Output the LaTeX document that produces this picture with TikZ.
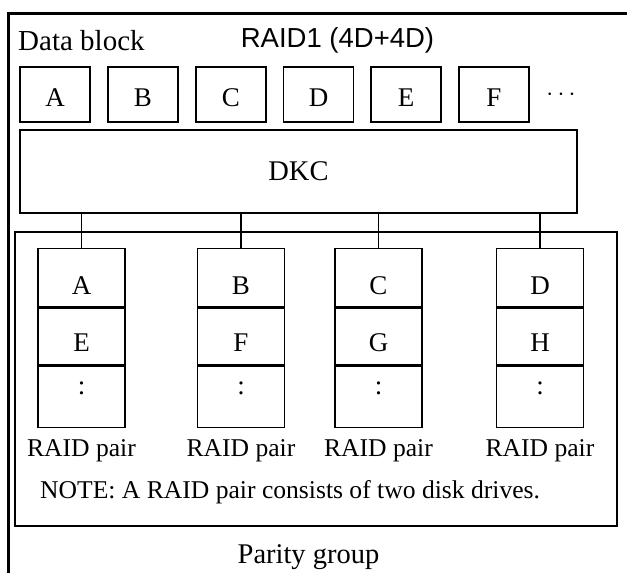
\documentclass[tikz,border=0pt]{standalone}
\usepackage{fontspec}
\setmainfont{Liberation Serif}
\newfontfamily\titlefont{Liberation Sans}
\usepackage{tikz}
\usetikzlibrary{positioning}
\tikzset{%
  block/.style = {shape=rectangle, draw, line width=1.3pt,
    minimum width=70pt, minimum height=55pt, inner sep=0pt,
    text height=24pt, text depth=0pt,
    font=\fontsize{27}{30}\selectfont},
  cell/.style = {shape=rectangle, draw, line width=1.3pt,
    minimum width=87pt, inner sep=0pt, anchor=north,
    font=\fontsize{27}{30}\selectfont},
  pairtext/.style = {inner sep=0pt, anchor=base,
    font=\fontsize{25.6}{28}\selectfont},
  link/.style = {draw, line width=1.3pt}
}

\begin{document}
\begin{tikzpicture}[x=1pt, y=-1pt]
  \useasboundingbox (0,0) rectangle (627,573);
  \draw[line width=3pt] (8.7,573) -- (8.7,13.5) -- (627,13.5);

  \node[inner sep=0pt, anchor=base west, font=\fontsize{29}{32}\selectfont]
    (datalbl) at (18,50) {Data block};
  \node[inner sep=0pt, anchor=base, font=\titlefont\fontsize{27.5}{30}\selectfont]
    (title) at (337.5,47) {RAID1 (4D+4D)};

  \foreach \x/\l in {55/A, 143/B, 231/C, 318.5/D, 406/E, 494/F}
    \node[block] (blk\l) at (\x,94.5) {\l};
  \node[inner sep=0pt, font=\fontsize{24}{28}\selectfont] (more) at (561,95) {$\cdots$};

  \node[shape=rectangle, draw, line width=1.3pt, minimum width=557pt,
    minimum height=83pt, font=\fontsize{28.5}{32}\selectfont] (dkc) at (298.5,171.5) {DKC};

  \node[shape=rectangle, draw, line width=1.3pt, minimum width=602pt,
    minimum height=294pt] (parity) at (316,379) {};

  \foreach \x/\up/\low/\n in {81.5/A/E/1, 241/B/F/2, 378.5/C/G/3, 540/D/H/4} {
    \node[cell, minimum height=58pt, text height=34pt, text depth=0pt] (top\n) at (\x,248) {\up};
    \node[cell, minimum height=57pt, text height=30pt, text depth=0pt] (mid\n) at (top\n.south) {\low};
    \node[cell, minimum height=61pt, text height=12pt, text depth=17pt] (bot\n) at (mid\n.south) {:};
    \node[pairtext] (pair\n) at (\x,456) {RAID pair};
    \draw[link] (top\n.north) -- (top\n.north |- dkc.south);
  }

  \node[inner sep=0pt, anchor=base west, font=\fontsize{25.6}{28}\selectfont]
    (note) at (40,498) {NOTE: A RAID pair consists of two disk drives.};
  \node[inner sep=0pt, anchor=base, font=\fontsize{28.5}{32}\selectfont]
    (pglbl) at (308.5,563) {Parity group};
\end{tikzpicture}
\end{document}
